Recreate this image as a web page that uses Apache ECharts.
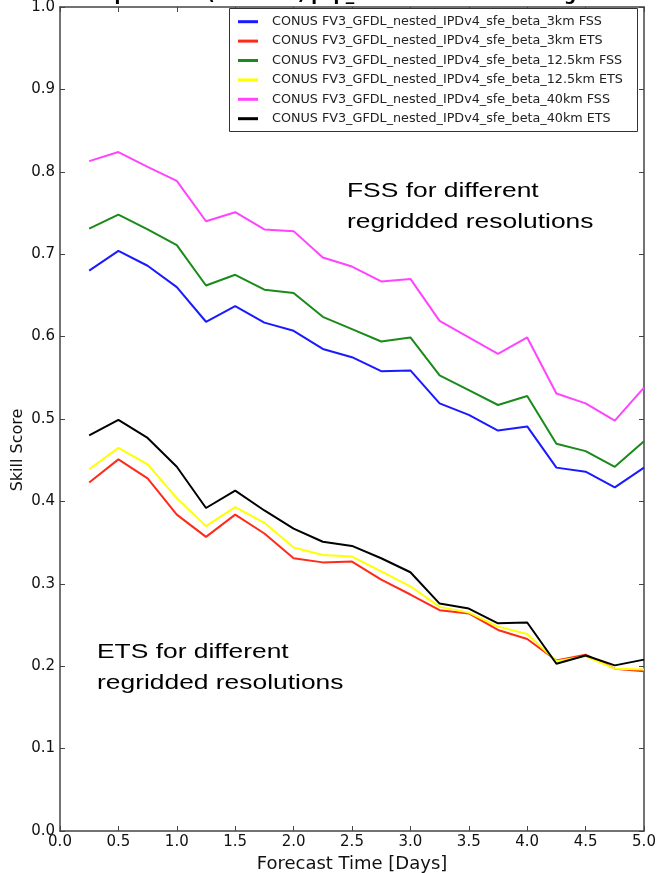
<!DOCTYPE html>
<html>
<head>
<meta charset="utf-8">
<script src="https://cdn.jsdelivr.net/npm/echarts@6/dist/echarts.min.js"></script>
<style>
  html, body { margin: 0; padding: 0; background: #fff; }
  #chart { width: 657px; height: 873px; }
</style>
</head>
<body>
<div id="chart"></div>
<script>
// Forecast lead times (days)
const days = [0.25, 0.5, 0.75, 1.0, 1.25, 1.5, 1.75, 2.0, 2.25, 2.5,
              2.75, 3.0, 3.25, 3.5, 3.75, 4.0, 4.25, 4.5, 4.75, 5.0];

// Skill scores per regridded resolution
const fss3km  = [0.680, 0.704, 0.686, 0.660, 0.618, 0.637, 0.617, 0.607, 0.585, 0.575,
                 0.558, 0.559, 0.519, 0.505, 0.486, 0.491, 0.441, 0.436, 0.417, 0.441];
const ets3km  = [0.423, 0.451, 0.428, 0.384, 0.357, 0.384, 0.361, 0.331, 0.326, 0.327,
                 0.305, 0.287, 0.268, 0.264, 0.244, 0.233, 0.207, 0.214, 0.197, 0.194];
const fss12km = [0.731, 0.748, 0.730, 0.711, 0.662, 0.675, 0.657, 0.653, 0.624, 0.609,
                 0.594, 0.599, 0.553, 0.535, 0.517, 0.528, 0.470, 0.461, 0.442, 0.473];
const ets12km = [0.439, 0.465, 0.445, 0.404, 0.370, 0.393, 0.374, 0.344, 0.335, 0.333,
                 0.315, 0.297, 0.272, 0.265, 0.248, 0.239, 0.206, 0.212, 0.197, 0.196];
const fss40km = [0.813, 0.824, 0.806, 0.789, 0.740, 0.751, 0.730, 0.728, 0.696, 0.685,
                 0.667, 0.670, 0.619, 0.599, 0.579, 0.599, 0.531, 0.519, 0.498, 0.538];
const ets40km = [0.480, 0.499, 0.477, 0.442, 0.392, 0.413, 0.389, 0.367, 0.351, 0.346,
                 0.331, 0.314, 0.276, 0.270, 0.252, 0.253, 0.203, 0.213, 0.201, 0.208];

const seriesNames = [
  'CONUS FV3_GFDL_nested_IPDv4_sfe_beta_3km FSS',
  'CONUS FV3_GFDL_nested_IPDv4_sfe_beta_3km ETS',
  'CONUS FV3_GFDL_nested_IPDv4_sfe_beta_12.5km FSS',
  'CONUS FV3_GFDL_nested_IPDv4_sfe_beta_12.5km ETS',
  'CONUS FV3_GFDL_nested_IPDv4_sfe_beta_40km FSS',
  'CONUS FV3_GFDL_nested_IPDv4_sfe_beta_40km ETS'
];
const seriesValues = [fss3km, ets3km, fss12km, ets12km, fss40km, ets40km];
const seriesColors = ['#1a1aff', '#ff2a1a', '#1a8a1a', '#ffff00', '#ff44ff', '#000000'];

const xTicks = { min: 0, max: 5, interval: 0.5 };
const yTicks = { min: 0, max: 1, interval: 0.1 };

const FONT = 'DejaVu Sans';
const frameColor = '#444';

const chart = echarts.init(document.getElementById('chart'), null, { renderer: 'canvas' });

const series = seriesNames.map((name, i) => ({
  name,
  type: 'line',
  data: days.map((d, j) => [d, seriesValues[i][j]]),
  showSymbol: false,
  symbol: 'none',
  lineStyle: { color: seriesColors[i], width: 2 },
  itemStyle: { color: seriesColors[i] },
  z: 3 + i
}));

const baseX = {
  type: 'value', min: xTicks.min, max: xTicks.max, interval: xTicks.interval,
  splitLine: { show: false },
  axisLine: { show: true, onZero: false, lineStyle: { color: frameColor, width: 1.5 } },
  axisTick: { show: true, inside: true, length: 5, lineStyle: { color: frameColor } }
};
const baseY = {
  type: 'value', min: yTicks.min, max: yTicks.max, interval: yTicks.interval,
  splitLine: { show: false },
  axisLine: { show: true, onZero: false, lineStyle: { color: frameColor, width: 1.5 } },
  axisTick: { show: true, inside: true, length: 5, lineStyle: { color: frameColor } }
};

// Annotation text is set slightly condensed vertically
const noteScaleY = 0.78;

chart.setOption({
  animation: false,
  backgroundColor: '#fff',
  grid: { left: 60, right: 13, top: 7, bottom: 42, outerBoundsMode: 'none', containLabel: false },
  xAxis: [
    Object.assign({}, baseX, {
      position: 'bottom',
      name: 'Forecast Time [Days]',
      nameLocation: 'middle',
      nameGap: 18,
      nameTextStyle: { fontFamily: FONT, fontSize: 18, color: '#111' },
      axisLabel: { fontFamily: FONT, fontSize: 15, color: '#111', margin: 4,
                   formatter: v => v.toFixed(1) }
    }),
    Object.assign({}, baseX, { position: 'top', axisLabel: { show: false } })
  ],
  yAxis: [
    Object.assign({}, baseY, {
      position: 'left',
      axisLabel: { fontFamily: FONT, fontSize: 15, color: '#111', margin: 5,
                   formatter: v => v.toFixed(1) }
    }),
    Object.assign({}, baseY, { position: 'right', axisLabel: { show: false } })
  ],
  legend: {
    orient: 'vertical',
    left: 238,
    top: 12,
    padding: 0,
    z: 60,
    icon: 'rect',
    itemWidth: 20,
    itemHeight: 3,
    itemGap: 0,
    textStyle: { fontFamily: FONT, fontSize: 12.75, lineHeight: 19.4, color: '#222',
                 padding: [0, 0, 0, 9] },
    data: seriesNames
  },
  graphic: [
    {
      type: 'rect',
      shape: { x: 229.5, y: 8.5, width: 408, height: 123 },
      style: { fill: '#fff', stroke: '#333', lineWidth: 1 },
      z: 50
    },
    {
      // y-axis title
      type: 'text',
      x: 18, y: 450, rotation: Math.PI / 2,
      style: { text: 'Skill Score', font: '16px "DejaVu Sans"', fill: '#111',
               align: 'center', verticalAlign: 'middle' },
      z: 10
    },
    {
      type: 'text',
      left: 52, top: -13,
      style: { text: 'FV3: April-2016 (20 cases) pcp_24h Skill Scores from gridded analysis',
               font: 'bold 17px "DejaVu Sans"', fill: '#000' },
      z: 0
    },
    {
      type: 'text',
      x: 347, y: 176, scaleY: noteScaleY,
      style: { text: 'FSS for different\nregridded resolutions',
               font: '26.4px "Liberation Sans"', lineHeight: 40, fill: '#000' },
      z: 100
    },
    {
      type: 'text',
      x: 97, y: 637, scaleY: noteScaleY,
      style: { text: 'ETS for different\nregridded resolutions',
               font: '26.4px "Liberation Sans"', lineHeight: 40, fill: '#000' },
      z: 100
    }
  ],
  series
});
</script>
</body>
</html>
